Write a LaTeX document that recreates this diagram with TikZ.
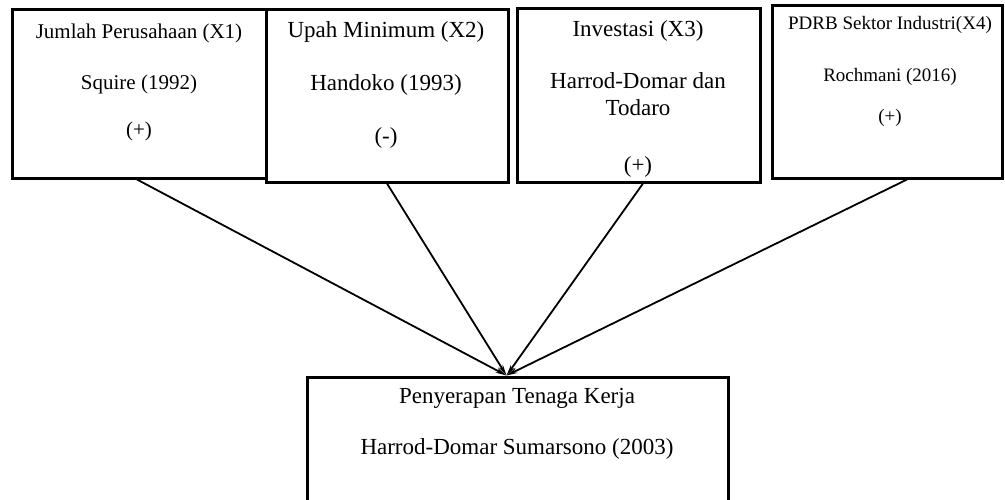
\documentclass[tikz,border=0pt]{standalone}
\usepackage{fontspec}
\setmainfont{Liberation Serif}
\usetikzlibrary{arrows.meta,calc}
\begin{document}
\begin{tikzpicture}[x=1pt,y=-1pt,
  box/.style={draw=black,line width=3pt,rectangle,inner sep=0pt,fill=none},
  lbl/.style={inner sep=0pt,anchor=base,text=black},
  conn/.style={draw=black,line width=1.8pt,-{Stealth[length=11pt,width=5pt]}}]
\useasboundingbox (0,0) rectangle (1005,499);
\clip (0,0) rectangle (1005,499);
\fill[white] (0,0) rectangle (1005,499);
% boxes
\node[box,minimum width=254pt,minimum height=169pt] (b1) at (139,93.5) {};
\node[box,minimum width=242pt,minimum height=173pt] (b2) at (387,95.5) {};
\node[box,minimum width=243pt,minimum height=174pt] (b3) at (638.5,95) {};
\node[box,minimum width=230pt,minimum height=173pt] (b4) at (887,91.5) {};
\node[box,minimum width=421pt,minimum height=180pt] (b5) at (517.5,467) {};
% texts box 1
\node[lbl,font=\fontsize{21}{24}\selectfont] (t1a) at (139,38) {Jumlah Perusahaan (X1)};
\node[lbl,font=\fontsize{21}{24}\selectfont] (t1b) at (139,89) {Squire (1992)};
\node[lbl,font=\fontsize{21}{24}\selectfont] (t1c) at (139,136) {(+)};
% box 2
\node[lbl,font=\fontsize{23}{26}\selectfont] (t2a) at (386,37) {Upah Minimum (X2)};
\node[lbl,font=\fontsize{23}{26}\selectfont] (t2b) at (386,90) {Handoko (1993)};
\node[lbl,font=\fontsize{23}{26}\selectfont] (t2c) at (386,143) {(-)};
% box 3
\node[lbl,font=\fontsize{23}{26}\selectfont] (t3a) at (638,36) {Investasi (X3)};
\node[lbl,font=\fontsize{23}{26}\selectfont] (t3b) at (638,88) {Harrod-Domar dan};
\node[lbl,font=\fontsize{23}{26}\selectfont] (t3c) at (638,115) {Todaro};
\node[lbl,font=\fontsize{23}{26}\selectfont] (t3d) at (638,172) {(+)};
% box 4
\node[lbl,font=\fontsize{19}{22}\selectfont] (t4a) at (890,29) {PDRB Sektor Industri(X4)};
\node[lbl,font=\fontsize{19}{22}\selectfont] (t4b) at (890,81) {Rochmani (2016)};
\node[lbl,font=\fontsize{19}{22}\selectfont] (t4c) at (890,122) {(+)};
% bottom box
\node[lbl,font=\fontsize{23}{26}\selectfont] (t5a) at (517,403) {Penyerapan Tenaga Kerja};
\node[lbl,font=\fontsize{23}{26}\selectfont] (t5b) at (517,454) {Harrod-Domar Sumarsono (2003)};
% connectors
\coordinate (meet) at ($(b5.north)+(-11,0)$);
\coordinate (s1) at ($(b1.south)+(-2,0)$);
\coordinate (s2) at ($(b2.south)+(0,0)$);
\coordinate (s3) at ($(b3.south)+(4.5,0)$);
\coordinate (s4) at ($(b4.south)+(20,0)$);
\draw[conn] (s1) -- (meet);
\draw[conn] (s2) -- (meet);
\draw[conn] (s3) -- (meet);
\draw[conn] (s4) -- (meet);
\end{tikzpicture}
\end{document}
